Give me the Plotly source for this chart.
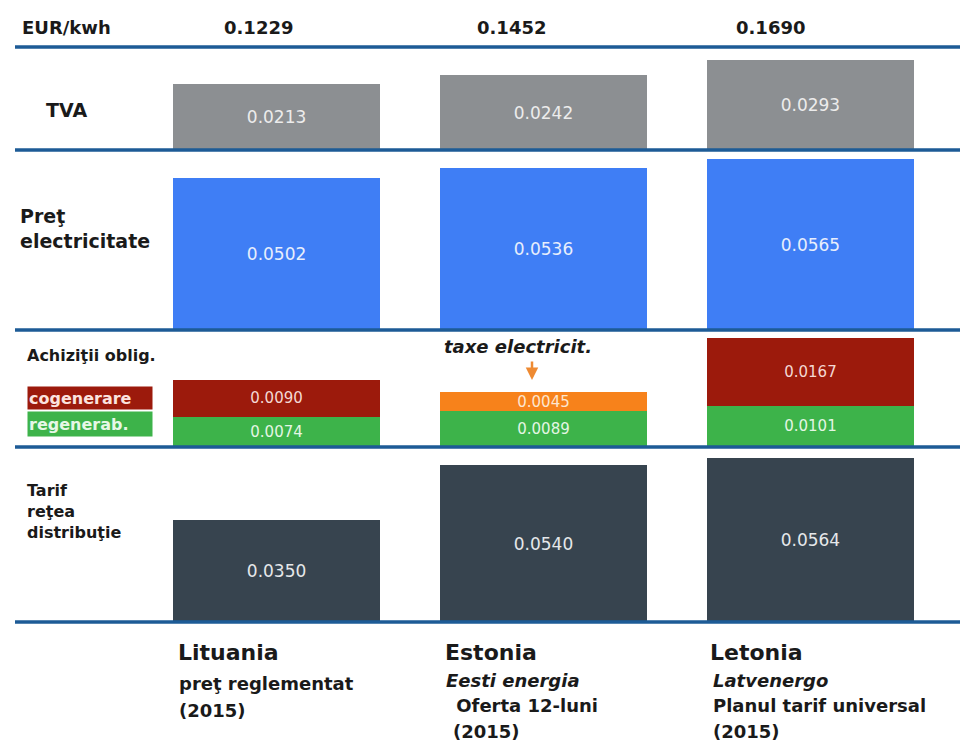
import plotly.graph_objects as go

# ---------------- data ----------------
countries = ["Lituania", "Estonia", "Letonia"]
totals = ["0.1229", "0.1452", "0.1690"]
tva = [0.0213, 0.0242, 0.0293]
pret_electricitate = [0.0502, 0.0536, 0.0565]
regenerab = [0.0074, 0.0089, 0.0101]
cogenerare = [0.0090, None, 0.0167]
taxe_electricit = [None, 0.0045, None]
tarif_retea = [0.0350, 0.0540, 0.0564]

subtitle_1 = ["preţ reglementat", "<i>Eesti energia</i>", "<i>Latvenergo</i>"]
subtitle_2 = ["(2015)", " Oferta 12-luni", "Planul tarif universal"]
subtitle_3 = ["", "(2015)", "(2015)"]

# ---------------- style ----------------
W, H = 969, 743
C_GREY = "#8c8f92"
C_BLUE = "#3f7ef5"
C_RED = "#9c1a0c"
C_ORANGE = "#f7821b"
C_GREEN = "#3db34a"
C_DARK = "#37444f"
C_LINE = "#1d5b96"
TXT = "#1a1a1a"
FONT = "DejaVu Sans"


def px(x):
    return x / W


def py(y):
    return 1 - y / H


def fmt(v):
    return [("%.4f" % a) if a is not None else "" for a in v]


fig = go.Figure()

bar_common = dict(
    width=0.775,
    textposition="inside",
    insidetextanchor="middle",
    constraintext="none",
    hoverinfo="skip",
    marker_line_width=0,
)

fig.add_trace(go.Bar(x=countries, y=tva, text=fmt(tva), marker_color=C_GREY,
                     textfont=dict(family=FONT, size=17, color="#ececec"),
                     xaxis="x", yaxis="y", name="TVA", **bar_common))
fig.add_trace(go.Bar(x=countries, y=pret_electricitate, text=fmt(pret_electricitate),
                     marker_color=C_BLUE, textfont=dict(family=FONT, size=17, color="#e8eefc"),
                     xaxis="x", yaxis="y2", name="Preţ electricitate", **bar_common))
fig.add_trace(go.Bar(x=countries, y=regenerab, text=fmt(regenerab), marker_color=C_GREEN,
                     textfont=dict(family=FONT, size=15, color="#e4f6e4"),
                     xaxis="x", yaxis="y3", name="regenerab.", **bar_common))
fig.add_trace(go.Bar(x=countries, y=cogenerare, text=fmt(cogenerare), marker_color=C_RED,
                     textfont=dict(family=FONT, size=15, color="#f4d8d4"),
                     xaxis="x", yaxis="y3", name="cogenerare", **bar_common))
fig.add_trace(go.Bar(x=countries, y=taxe_electricit, text=fmt(taxe_electricit),
                     marker_color=C_ORANGE, textfont=dict(family=FONT, size=15, color="#fde6cf"),
                     xaxis="x", yaxis="y3", name="taxe electricit.", **bar_common))
fig.add_trace(go.Bar(x=countries, y=tarif_retea, text=fmt(tarif_retea), marker_color=C_DARK,
                     textfont=dict(family=FONT, size=17, color="#e6e8ea"),
                     xaxis="x", yaxis="y4", name="Tarif reţea distribuţie", **bar_common))

# band boundaries (pixel rows) -> axis domains
bands = [47, 150, 330, 447, 622]
ax_hidden = dict(visible=False, fixedrange=True)
layout_axes = dict(
    xaxis=dict(range=[-1.036, 2.594], domain=[0, 1], anchor="y", **ax_hidden),
    yaxis=dict(domain=[py(bands[1]), py(bands[0])], range=[0, 0.0334], anchor="x", **ax_hidden),
    yaxis2=dict(domain=[py(bands[2]), py(bands[1])], range=[0, 0.0595], anchor="x", **ax_hidden),
    yaxis3=dict(domain=[py(bands[3]), py(bands[2])], range=[0, 0.0287], anchor="x", **ax_hidden),
    yaxis4=dict(domain=[py(bands[4]), py(bands[3])], range=[0, 0.0603], anchor="x", **ax_hidden),
)

shapes = []
for b in bands:
    shapes.append(dict(type="line", xref="paper", yref="paper", x0=px(15), x1=px(960),
                       y0=py(b), y1=py(b), line=dict(color=C_LINE, width=3.5), layer="above"))

ann = []


def text(x, y, s, size, bold=True, italic=False, xanchor="left", color=TXT, **kw):
    if italic:
        s = "<i>" + s + "</i>"
    if bold:
        s = "<b>" + s + "</b>"
    d = dict(x=px(x), y=py(y), xref="paper", yref="paper", text=s, showarrow=False,
             xanchor=xanchor, yanchor="middle", align="left",
             font=dict(family=FONT, size=size, color=color))
    d.update(kw)
    ann.append(d)


# header
text(20, 28, "EUR/kwh", 18)
for xc, t in zip([258, 511, 770], totals):
    text(xc, 28, t, 18, xanchor="center")

# row labels
text(44, 110, "TVA", 19)
text(18, 228, "Preţ<br>electricitate", 19)
text(25, 355, "Achiziţii oblig.", 16)
ann.append(dict(x=px(27), y=py(398), xref="paper", yref="paper", text="<b>cogenerare</b>",
                showarrow=False, xanchor="left", yanchor="middle", width=122, height=20,
                bgcolor=C_RED, align="left",
                font=dict(family=FONT, size=16, color="#fbe3df")))
ann.append(dict(x=px(27), y=py(424), xref="paper", yref="paper", text="<b>regenerab.</b>",
                showarrow=False, xanchor="left", yanchor="middle", width=122, height=22,
                bgcolor=C_GREEN, align="left",
                font=dict(family=FONT, size=16, color="#e6f7e6")))
text(25, 511, "Tarif<br>reţea<br>distribuţie", 16)

# callout
text(518, 347, "taxe electricit.", 18, italic=True, xanchor="center")
ann.append(dict(x=px(532), y=py(380), xref="paper", yref="paper",
                axref="pixel", ayref="pixel", ax=0, ay=-20, text="", showarrow=True,
                arrowhead=2, arrowsize=1, arrowwidth=2.5, arrowcolor="#ee8a32"))

# bottom labels
lefts = [176, 443, 708]
for i, c in enumerate(countries):
    text(lefts[i], 652, c, 22, bold=True)
text(177, 683, subtitle_1[0], 18)
text(177, 710, subtitle_2[0], 18)
text(444, 680, subtitle_1[1], 18)
text(448, 705, subtitle_2[1], 18)
text(451, 731, subtitle_3[1], 18)
text(711, 680, subtitle_1[2], 18)
text(711, 705, subtitle_2[2], 18)
text(711, 731, subtitle_3[2], 18)

fig.update_layout(
    width=W, height=H,
    margin=dict(l=0, r=0, t=0, b=0),
    paper_bgcolor="white", plot_bgcolor="white",
    barmode="stack", showlegend=False,
    shapes=shapes, annotations=ann,
    **layout_axes,
)

fig.write_html("out.html", config={"displayModeBar": False})
